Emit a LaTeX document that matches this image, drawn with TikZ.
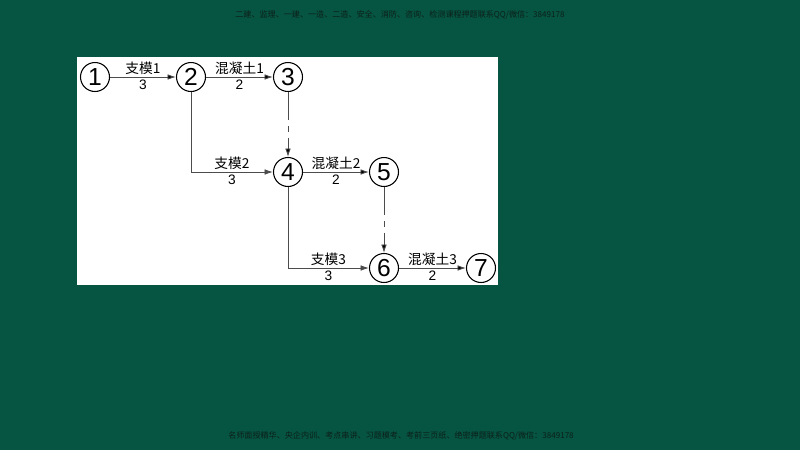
\documentclass[tikz,border=0pt]{standalone}
\usepackage{fontspec}
\setmainfont{Liberation Sans}
\newfontfamily\cjk{Noto Sans CJK SC}
\usetikzlibrary{arrows.meta}
\definecolor{bggreen}{RGB}{6,84,66}
\definecolor{adtext}{RGB}{12,32,26}
\tikzset{
  >={Latex[length=4.8pt,width=3.2pt]},
  event/.style={circle, draw, fill=white, line width=0.6pt, minimum size=0.58cm, inner sep=0pt, font=\fontsize{14}{14}\selectfont},
  work/.style={draw=black!70, line width=0.5pt, ->},
  dummy/.style={work, dash pattern=on 16pt off 3.5pt on 3.5pt off 3pt},
  lab/.style={inner sep=1.2pt, font=\fontsize{7.8}{8}\selectfont},
  ad/.style={text=adtext, font=\cjk\fontsize{4.6}{5}\selectfont}
}
\begin{document}
\begin{tikzpicture}[x=0.02cm, y=-0.02cm]
            \fill [bggreen] (0,0) rectangle (800,450);
            \node [ad] (top) at (400,15) {二建、监理、一建、一造、二造、安全、消防、咨询、检测课程押题联系QQ/微信：3849178};
            \node [ad] (bottom) at (401,436) {名师面授精华、央企内训、考点串讲、习题模考、考前三页纸、绝密押题联系QQ/微信：3849178};
            \fill [white] (77,57) rectangle (498,285);
            \node [event] (1) at (95,77) {1};
            \node [event] (2) at (191,77) {2};
            \node [event] (3) at (288,77) {3};
            \node [event] (4) at (288,172) {4};
            \node [event] (5) at (384,172) {5};
            \node [event] (6) at (384,268) {6};
            \node [event] (7) at (481,268) {7};
            \path [work] (1) edge node [lab, above] {\cjk 支模1} node [lab, below] {3} (2);
            \path [work] (2) edge node [lab, above] {\cjk 混凝土1} node [lab, below] {2} (3);
            \path [work] (4) edge node [lab, above] {\cjk 混凝土2} node [lab, below] {2} (5);
            \path [work] (6) edge node [lab, above] {\cjk 混凝土3} node [lab, below] {2} (7);
            \draw [work] (2) |- node [lab, pos=0.75, above] {\cjk 支模2} node [lab, pos=0.75, below] {3} (4);
            \draw [work] (4) |- node [lab, pos=0.75, above] {\cjk 支模3} node [lab, pos=0.75, below] {3} (6);
            \path [dummy] (3) edge (4);
            \path [dummy] (5) edge (6);
        \end{tikzpicture}
\end{document}
